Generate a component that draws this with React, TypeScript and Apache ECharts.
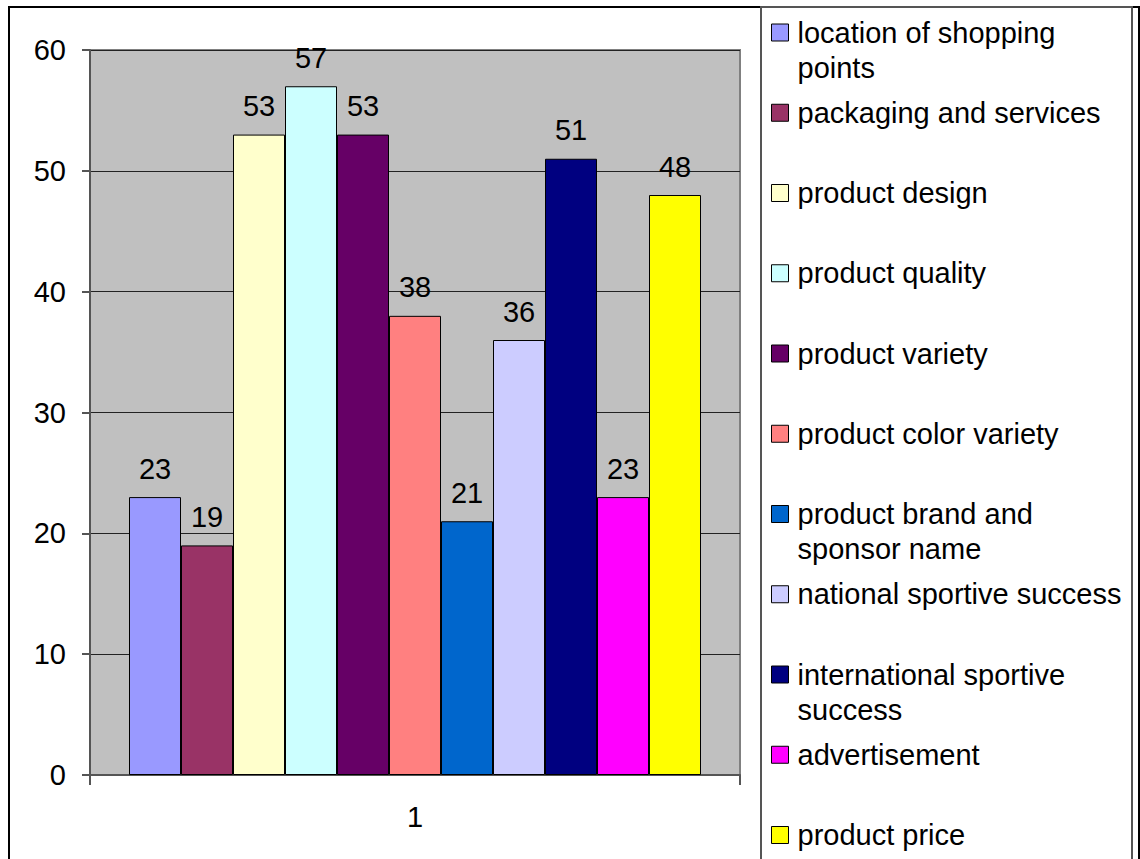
import React, { useEffect, useRef } from "react";
import * as echarts from "echarts";

const categories = ["1"];
const seriesNames = [
  "location of shopping points",
  "packaging and services",
  "product design",
  "product quality",
  "product variety",
  "product color variety",
  "product brand and sponsor name",
  "national sportive success",
  "international sportive success",
  "advertisement",
  "product price",
];
const legendTexts = [
  "location of shopping\npoints",
  "packaging and services",
  "product design",
  "product quality",
  "product variety",
  "product color variety",
  "product brand and\nsponsor name",
  "national sportive success",
  "international sportive\nsuccess",
  "advertisement",
  "product price",
];
const seriesValues = [23, 19, 53, 57, 53, 38, 21, 36, 51, 23, 48];
const seriesColors = [
  "#9999FF", "#993366", "#FFFFCC", "#CCFFFF", "#660066", "#FF8080",
  "#0066CC", "#CCCCFF", "#000080", "#FF00FF", "#FFFF00",
];
const yTicks = { min: 0, max: 60, interval: 10 };

const FONT = "'Liberation Sans', Arial, sans-serif";
const FS = 29;

export default function App() {
  const ref = useRef<HTMLDivElement>(null);
  useEffect(() => {
    if (!ref.current) return;
    const chart = echarts.init(ref.current, null, { renderer: "svg" });
    const legendCenter0 = 32.5;
    const legendStep = 80.25;
    const legends = seriesNames.map((name, i) => {
      const multi = legendTexts[i].includes("\n");
      const center = legendCenter0 + legendStep * i;
      return {
        show: true,
        orient: "vertical",
        left: 771,
        top: multi ? center - 52.5 : center - 17.5,
        padding: 0,
        itemWidth: 17,
        itemHeight: 17,
        icon: "rect",
        selectedMode: false,
        data: [name],
        formatter: () => (multi ? "\n" + legendTexts[i] : legendTexts[i]),
        itemStyle: { borderColor: "#000", borderWidth: 1 },
        textStyle: {
          fontFamily: FONT,
          fontSize: FS,
          color: "#000",
          lineHeight: 35,
          padding: [0, 0, 0, 4],
        },
      };
    });
    chart.setOption({
      animation: false,
      backgroundColor: "#fff",
      textStyle: { fontFamily: FONT },
      graphic: [
        {
          type: "rect",
          shape: { x: 9, y: 7, width: 1130, height: 900 },
          style: { fill: "none", stroke: "#000", lineWidth: 2 },
          silent: true,
        },
        {
          type: "rect",
          shape: { x: 761, y: 7, width: 371, height: 900 },
          style: { fill: "none", stroke: "#555", lineWidth: 2 },
          silent: true,
        },
      ],
      legend: legends,
      grid: {
        left: 90,
        top: 50,
        right: 400,
        bottom: 84,
        show: true,
        backgroundColor: "#C0C0C0",
        borderColor: "#808080",
        borderWidth: 2,
      },
      xAxis: {
        type: "category",
        data: categories,
        axisLine: { show: true, lineStyle: { color: "#555", width: 2 } },
        axisTick: { show: true, length: 10, lineStyle: { color: "#555", width: 2 } },
        axisLabel: { fontSize: FS, color: "#000", fontFamily: FONT, margin: 27 },
      },
      yAxis: {
        type: "value",
        min: yTicks.min,
        max: yTicks.max,
        interval: yTicks.interval,
        axisLine: { show: true, lineStyle: { color: "#555", width: 2 } },
        axisTick: { show: true, length: 8, lineStyle: { color: "#555", width: 2 } },
        axisLabel: { fontSize: FS, color: "#000", fontFamily: FONT, margin: 24 },
        splitLine: { show: true, lineStyle: { color: "#222", width: 1 } },
      },
      series: seriesNames.map((name, i) => ({
        type: "bar",
        name,
        data: [seriesValues[i]],
        barGap: "0%",
        barCategoryGap: "12%",
        itemStyle: { color: seriesColors[i], borderColor: "#000", borderWidth: 1 },
        label: {
          show: true,
          position: "top",
          distance: 14,
          fontSize: FS,
          color: "#000",
          fontFamily: FONT,
        },
      })),
    });
    return () => chart.dispose();
  }, []);
  return (
    <div
      ref={ref}
      style={{ position: "fixed", left: 0, top: 0, width: 1140, height: 859, background: "#fff" }}
    />
  );
}
